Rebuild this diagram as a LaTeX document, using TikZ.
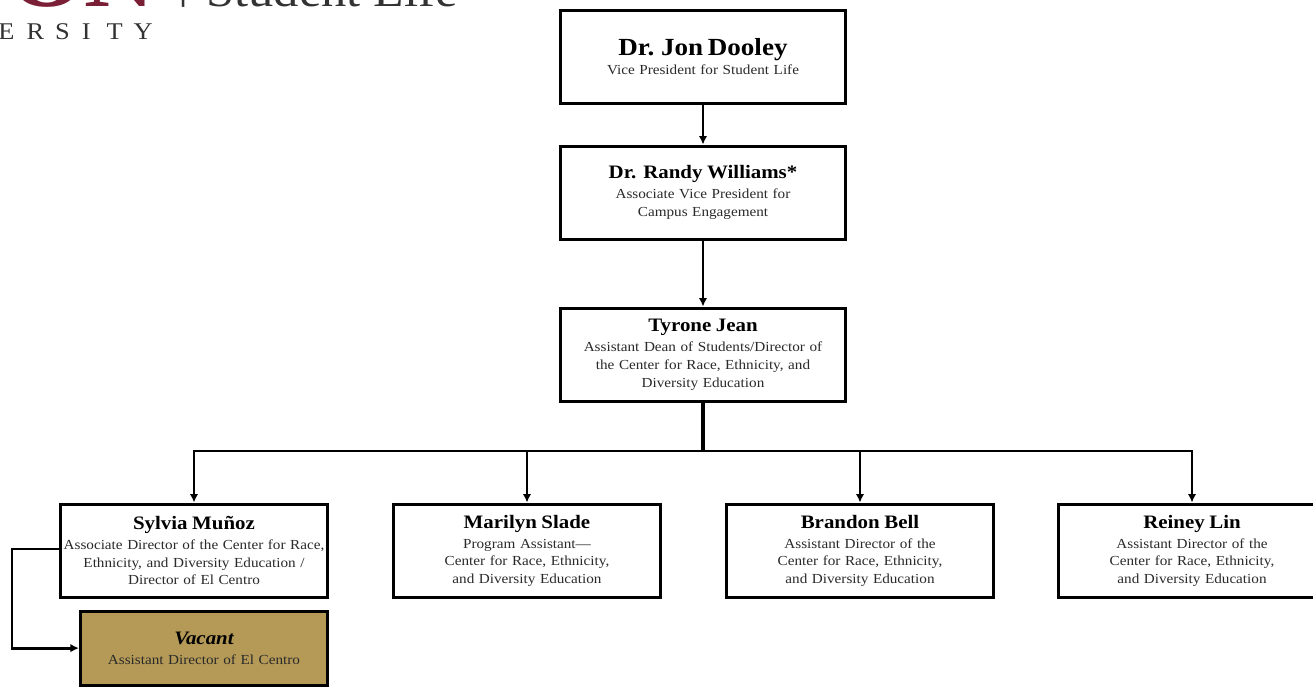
\documentclass[tikz,border=0pt]{standalone}
\usepackage{fontspec}
\setmainfont[FakeStretch=1.1]{Liberation Serif}
\usetikzlibrary{arrows.meta,calc}
\definecolor{gold}{HTML}{B59A57}
\definecolor{maroon}{HTML}{7A1F35}
\definecolor{rolegray}{HTML}{2A2A2A}
\newcommand{\nm}[1]{{\fontsize{19}{19}\selectfont\bfseries\color{black}#1}\\[2.3pt]}
\tikzset{
 orgbox/.style={draw=black,line width=3.2pt,fill=white,minimum height=#1,align=center,inner sep=0pt,anchor=north,text=rolegray,font=\fontsize{13.8}{17.7}\selectfont},
 wide/.style={text width=282,minimum width=285},
 lower/.style={text width=266,minimum width=267},
 link/.style={draw=black,line width=2.9pt,-{Latex[length=8.5pt,width=8.5pt]}},
 plain/.style={draw=black,line width=2.9pt},
}
\begin{document}
\begin{tikzpicture}[x=1pt,y=-1pt]
\useasboundingbox (0,0) rectangle (1313,686);
\clip (0,0) rectangle (1313,686);
% logo remnant
\node[anchor=base east,inner sep=0pt,text=maroon,font=\fontsize{88}{88}\selectfont\bfseries] (logoa) at (155,6) {ON};
\node[anchor=base west,inner sep=0pt,text=black!80,font=\fontsize{46}{46}\selectfont] (logob) at (178,6) {\raisebox{9pt}{|}\hspace{18pt}Student Life};
\node[anchor=base east,inner sep=0pt,text=black!80,font=\fontsize{24}{24}\selectfont] (logoc) at (153,39) {E\hspace{12pt}R\hspace{11pt}S\hspace{12pt}I\hspace{16pt}T\hspace{11pt}Y};
% boxes
\node[orgbox=93,wide] (dooley) at (703,8.5) {{\fontsize{24.6}{25}\selectfont\bfseries\color{black}Dr. Jon Dooley}\\[2pt]Vice President for Student Life};
\node[orgbox=93,wide] (williams) at (703,144.5) {\nm{Dr. Randy Williams*}Associate Vice President for\\Campus Engagement};
\node[orgbox=93,wide] (jean) at (703,306.5) {\nm{Tyrone Jean}Assistant Dean of Students/Director of\\the Center for Race, Ethnicity, and\\Diversity Education};
\node[orgbox=93,lower] (munoz) at (194,502.5) {\nm{Sylvia Muñoz}Associate Director of the Center for Race,\\Ethnicity, and Diversity Education /\\Director of El Centro};
\node[orgbox=93,lower] (slade) at (527,502.5) {\nm{Marilyn Slade}Program Assistant—\\Center for Race, Ethnicity,\\and Diversity Education};
\node[orgbox=93,lower] (bell) at (860,502.5) {\nm{Brandon Bell}Assistant Director of the\\Center for Race, Ethnicity,\\and Diversity Education};
\node[orgbox=93,lower] (lin) at (1192,502.5) {\nm{Reiney Lin}Assistant Director of the\\Center for Race, Ethnicity,\\and Diversity Education};
\node[orgbox=74,text width=244,minimum width=247,fill=gold] (vacant) at (204,609.5) {{\fontsize{19}{19}\selectfont\bfseries\itshape\color{black}Vacant}\\[2pt]Assistant Director of El Centro};
% connectors
\coordinate (bus) at (703,451);
\coordinate (elbow) at (12,549);
\draw[link] (dooley.south) -- (williams.north);
\draw[link] (williams.south) -- (jean.north);
\draw[plain,line width=3.2pt] (jean.south) -- (bus);
\draw[link] (bus) -| (munoz.north);
\draw[link] (bus) -| (slade.north);
\draw[link] (bus) -| (bell.north);
\draw[link] (bus) -| (lin.north);
\draw[link] (munoz.west |- elbow) -- (elbow) |- (vacant.west);
\end{tikzpicture}
\end{document}
